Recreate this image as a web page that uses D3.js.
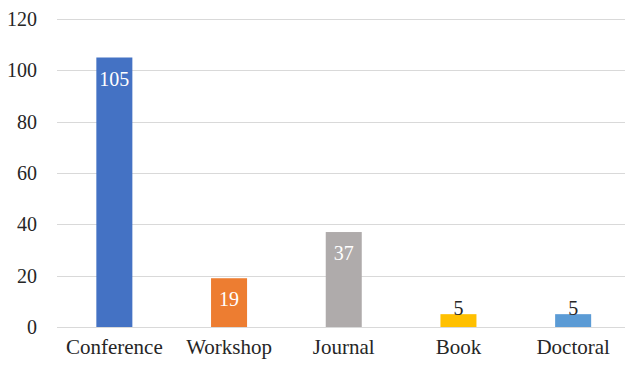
<!DOCTYPE html>
<html>
<head>
<meta charset="utf-8">
<script src="https://cdn.jsdelivr.net/npm/d3@7"></script>
<style>
html,body{margin:0;padding:0;background:#fff;}
svg{display:block;}
</style>
</head>
<body>
<svg id="chart" width="625" height="366"></svg>
<script>
const categories = ["Conference", "Workshop", "Journal", "Book", "Doctoral"];
const values = [105, 19, 37, 5, 5];
const colors = ["#4472C4", "#ED7D31", "#AFABAB", "#FFC000", "#5B9BD5"];
const yTicks = [0, 20, 40, 60, 80, 100, 120];

const FONT = "Liberation Serif";
const svg = d3.select("#chart");

const x = d3.scaleBand().domain(categories).range([57, 630.5]).paddingInner(0.686).paddingOuter(0.343);
const y = d3.scaleLinear().domain([0, 120]).range([327, 19]);

// gridlines
svg.append("g").selectAll("line").data(yTicks).join("line")
  .attr("x1", 57).attr("x2", 625)
  .attr("y1", d => Math.round(y(d)) + 0.5).attr("y2", d => Math.round(y(d)) + 0.5)
  .attr("stroke", "#d9d9d9").attr("stroke-width", 1);

// y axis labels
const yAxis = d3.axisLeft(y).tickValues(yTicks).tickSize(0).tickPadding(20);
const ga = svg.append("g").attr("transform", "translate(57,0)").call(yAxis);
ga.select(".domain").remove();
ga.attr("font-family", FONT).attr("font-size", 20);
ga.selectAll("text").attr("font-family", FONT).attr("fill", "#262626");

// x axis labels
const xAxis = d3.axisBottom(x).tickSize(0).tickPadding(12);
const gx = svg.append("g").attr("transform", "translate(0,327)").call(xAxis);
gx.select(".domain").remove();
gx.attr("font-family", FONT).attr("font-size", 21);
gx.selectAll("text").attr("font-family", FONT).attr("fill", "#262626");

// bars
svg.append("g").selectAll("rect").data(categories).join("rect")
  .attr("x", d => x(d)).attr("width", x.bandwidth())
  .attr("y", (d, i) => y(values[i])).attr("height", (d, i) => y(0) - y(values[i]))
  .attr("fill", (d, i) => colors[i]);

// value labels
svg.append("g").selectAll("text").data(categories).join("text")
  .attr("x", d => x(d) + x.bandwidth() / 2)
  .attr("y", (d, i) => values[i] > 10 ? y(values[i]) + 28 : y(values[i]) + 1)
  .attr("text-anchor", "middle")
  .attr("font-family", FONT)
  .attr("font-size", 20)
  .attr("fill", (d, i) => values[i] > 10 ? "#ffffff" : "#262626")
  .text((d, i) => values[i]);
</script>
</body>
</html>
